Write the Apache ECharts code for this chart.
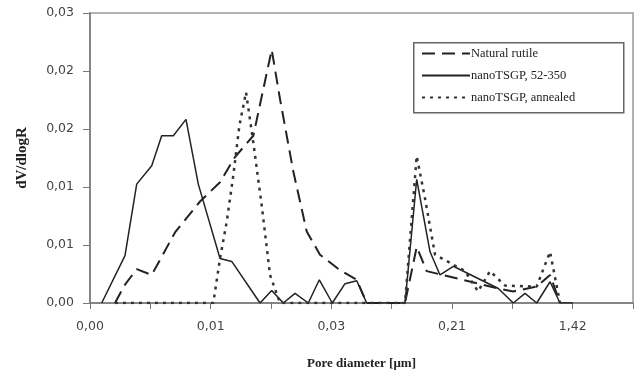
<!DOCTYPE html>
<html>
<head>
<meta charset="utf-8">
<script src="https://cdn.jsdelivr.net/npm/echarts@6/dist/echarts.min.js"></script>
<style>html,body{margin:0;padding:0;background:#fff}#c{width:636px;height:375px}</style>
</head>
<body>
<div id="c"></div>
<script>
// x positions are in category-tick units along the (log-spaced) pore-diameter axis
var xTickLabels = ['0,00', '', '0,01', '', '0,03', '', '0,21', '', '1,42', ''];
var yTickLabels = ['0,00', '0,01', '0,01', '0,02', '0,02', '0,03'];
var seriesNames = ['Natural rutile', 'nanoTSGP, 52-350', 'nanoTSGP, annealed'];

var rutileX = [0.414, 0.58, 0.774, 1.023, 1.409, 1.823, 2.155, 2.403, 2.707, 3.012, 3.149, 3.370, 3.592, 3.812, 4.144, 4.421, 4.586, 5.221, 5.415, 5.58, 6.768, 7.016, 7.404, 7.625, 7.79];
var rutileY = [0, 0.0019, 0.0035, 0.0029, 0.0073, 0.0105, 0.0125, 0.0151, 0.0173, 0.0262, 0.0211, 0.0136, 0.0074, 0.0050, 0.0034, 0.0024, 0, 0, 0.0058, 0.0033, 0.0015, 0.0012, 0.0017, 0.0029, 0];

var tsgpX = [0.194, 0.58, 0.774, 1.023, 1.188, 1.381, 1.591, 1.795, 2.155, 2.349, 2.818, 3.012, 3.204, 3.398, 3.618, 3.801, 4.016, 4.227, 4.421, 4.586, 5.221, 5.415, 5.636, 5.801, 6.022, 6.768, 7.016, 7.21, 7.404, 7.625, 7.79, 8.006];
var tsgpY = [0, 0.0049, 0.0123, 0.0142, 0.0173, 0.0173, 0.0190, 0.0123, 0.0046, 0.0043, 0, 0.0013, 0, 0.0010, 0, 0.0024, 0, 0.0020, 0.0023, 0, 0, 0.0128, 0.0053, 0.0029, 0.0038, 0.0015, 0, 0.0010, 0, 0.0022, 0, 0];

var annealX = [0.414, 2.044, 2.155, 2.266, 2.375, 2.475, 2.586, 2.707, 2.846, 2.984, 3.149, 5.221, 5.415, 5.553, 5.719, 6.216, 6.431, 6.63, 6.88, 7.404, 7.625, 7.79];
var annealY = [0, 0, 0.0046, 0.0084, 0.0132, 0.0183, 0.0218, 0.0166, 0.0101, 0.0029, 0, 0, 0.0152, 0.0108, 0.0050, 0.0033, 0.0012, 0.0033, 0.0018, 0.0017, 0.0053, 0];

function pairs(xs, ys) { return xs.map(function (x, i) { return [x, ys[i]]; }); }

var chart = echarts.init(document.getElementById('c'), null, {renderer: 'canvas'});
chart.setOption({
  animation: false,
  backgroundColor: '#fff',
  grid: {left: 90, right: 2, top: 13, bottom: 70, show: true, borderColor: '#999', borderWidth: 1.5},
  graphic: [{
    type: 'rect', left: 413, top: 42, z: 0,
    shape: {width: 210, height: 70},
    style: {fill: '#fff', stroke: '#666', lineWidth: 1.5}
  }],
  legend: {
    orient: 'vertical', left: 421, top: 47, z: 10,
    padding: 0,
    itemWidth: 48, itemHeight: 12, itemGap: 9,
    itemStyle: {opacity: 0},
    textStyle: {fontFamily: 'Liberation Serif', fontSize: 12.5, color: '#222', padding: [0, 0, 0, -4]},
    data: seriesNames
  },
  xAxis: {
    type: 'value', min: 0, max: 9, interval: 1,
    name: 'Pore diameter [\u03bcm]', nameLocation: 'middle', nameGap: 54,
    nameTextStyle: {fontFamily: 'Liberation Serif', fontWeight: 'bold', fontSize: 13, color: '#222'},
    axisLine: {lineStyle: {color: '#777', width: 1.5}},
    axisTick: {show: true, length: 6, lineStyle: {color: '#777'}},
    axisLabel: {fontFamily: 'DejaVu Sans', fontSize: 12.5, color: '#444', margin: 17,
      formatter: function (v) { return xTickLabels[Math.round(v)] || ''; }},
    splitLine: {show: false}
  },
  yAxis: {
    type: 'value', min: 0, max: 0.03, interval: 0.006,
    name: 'dV/dlogR', nameLocation: 'middle', nameGap: 60, nameRotate: 90,
    nameTextStyle: {fontFamily: 'Liberation Serif', fontWeight: 'bold', fontSize: 15, color: '#222'},
    axisLine: {show: true, lineStyle: {color: '#777', width: 1.5}},
    axisTick: {show: true, length: 7, lineStyle: {color: '#777'}},
    axisLabel: {fontFamily: 'DejaVu Sans', fontSize: 12.5, color: '#444', margin: 16,
      formatter: function (v) { return yTickLabels[Math.round(v / 0.006)]; }},
    splitLine: {show: false}
  },
  series: [
    {name: seriesNames[0], type: 'line', symbol: 'none', data: pairs(rutileX, rutileY),
      lineStyle: {color: '#222', width: 2, type: [13, 7]}, itemStyle: {color: '#222'}},
    {name: seriesNames[1], type: 'line', symbol: 'none', data: pairs(tsgpX, tsgpY),
      lineStyle: {color: '#222', width: 1.5, type: 'solid'}, itemStyle: {color: '#222'}},
    {name: seriesNames[2], type: 'line', symbol: 'none', data: pairs(annealX, annealY),
      lineStyle: {color: '#333', width: 2.5, type: [3, 5]}, itemStyle: {color: '#333'}}
  ]
});
</script>
</body>
</html>
